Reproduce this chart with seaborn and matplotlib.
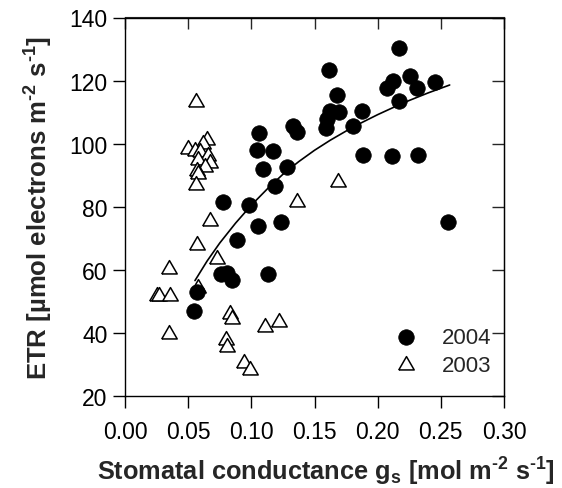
"""
ETR versus stomatal conductance, 2003 and 2004 campaigns,
with the saturation curve fitted to the 2004 points
"""
import matplotlib
matplotlib.use('Agg')
import matplotlib.pyplot as plt
import seaborn as sns
import pandas as pd

# 2004 measurements (filled circles)
gs_2004 = [0.0546, 0.0567, 0.076, 0.081, 0.085, 0.0778, 0.0889, 0.0984, 0.1055, 0.1134,
           0.1232, 0.1187, 0.109, 0.1285, 0.1042, 0.1174, 0.1058, 0.1327, 0.1359, 0.159,
           0.1596, 0.1623, 0.1696, 0.168, 0.1615, 0.1802, 0.1873, 0.1887, 0.2116, 0.2322,
           0.2559, 0.2071, 0.2124, 0.2256, 0.2314, 0.2454, 0.2172, 0.2172]
etr_2004 = [47.0, 52.9, 58.7, 58.9, 56.8, 81.6, 69.5, 80.5, 74.0, 58.7,
            75.3, 86.7, 92.0, 92.5, 98.1, 97.8, 103.4, 105.7, 103.8, 105.0,
            107.8, 110.5, 110.1, 115.4, 123.4, 105.5, 110.5, 96.4, 96.0, 96.4,
            75.3, 117.8, 120.0, 121.4, 117.6, 119.6, 113.6, 130.2]

# 2003 measurements (open triangles)
gs_2003 = [0.0562, 0.0646, 0.062, 0.0501, 0.0554, 0.0594, 0.066, 0.058, 0.0673, 0.0633,
           0.0567, 0.058, 0.056, 0.0673, 0.0573, 0.0731, 0.1364, 0.1689, 0.0351, 0.0256,
           0.0272, 0.0356, 0.058, 0.0351, 0.0831, 0.0845, 0.1108, 0.1219, 0.0797, 0.0805,
           0.0942, 0.0989]
etr_2003 = [113.1, 101.2, 99.9, 98.3, 97.8, 97.3, 96.0, 94.9, 93.9, 92.5,
            91.4, 90.4, 86.9, 75.6, 67.9, 63.4, 81.4, 87.9, 60.3, 51.6,
            51.6, 51.8, 54.1, 39.6, 46.0, 44.4, 41.8, 43.4, 37.8, 35.4,
            30.4, 28.3]

# fitted curve
fit_gs = [0.0554, 0.065, 0.075, 0.0875, 0.10, 0.1125, 0.125, 0.1375, 0.15, 0.1625,
          0.175, 0.1875, 0.20, 0.2125, 0.225, 0.24, 0.257]
fit_etr = [56.6, 62.8, 68.5, 74.8, 80.5, 85.6, 90.3, 94.3, 97.9, 101.1,
           104.0, 106.7, 109.2, 111.5, 113.7, 116.1, 118.6]

xticks = [0.0, 0.05, 0.10, 0.15, 0.20, 0.25, 0.30]
xticklabels = ['0.00', '0.05', '0.10', '0.15', '0.20', '0.25', '0.30']
yticks = [20, 40, 60, 80, 100, 120, 140]

df04 = pd.DataFrame({'gs': gs_2004, 'etr': etr_2004})
df03 = pd.DataFrame({'gs': gs_2003, 'etr': etr_2003})
dfit = pd.DataFrame({'gs': fit_gs, 'etr': fit_etr})

sns.set_style('ticks')
plt.rcParams['font.family'] = ['Liberation Sans', 'DejaVu Sans']
plt.rcParams['mathtext.fontset'] = 'custom'
plt.rcParams['mathtext.bf'] = 'Liberation Sans:bold'
plt.rcParams['mathtext.rm'] = 'Liberation Sans:bold'
plt.rcParams['mathtext.it'] = 'Liberation Sans:bold'

# open triangle, centred on its centroid
tri = [(-1, -0.577), (1, -0.577), (0, 1.155), (-1, -0.577)]

fig = plt.figure(figsize=(5.62, 4.89), dpi=100)
ax = fig.add_axes([125 / 562, 1 - 397 / 489, 379 / 562, 378.5 / 489])

sns.scatterplot(data=df03, x='gs', y='etr', marker=tri, s=165, color='white',
                edgecolor='black', linewidth=1.1, label='2003', ax=ax, zorder=3)
sns.scatterplot(data=df04, x='gs', y='etr', marker='o', s=125, color='black',
                edgecolor='black', linewidth=0.5, label='2004', ax=ax, zorder=4)
sns.lineplot(data=dfit, x='gs', y='etr', color='black', linewidth=1.2, ax=ax, zorder=5)

ax.set_xlim(0, 0.30)
ax.set_ylim(20, 140)
ax.set_xticks(xticks)
ax.set_yticks(yticks)
ax.set_xticklabels(xticklabels)

for s in ax.spines.values():
    s.set_visible(True)
    s.set_linewidth(1.0)
    s.set_color('black')

ax.tick_params(axis='both', which='major', direction='out', length=8.5, width=1.0,
               labelsize=16.5, colors='black')
ax.tick_params(axis='x', pad=9)
ax.tick_params(axis='y', pad=4)
# the opposite sides carry inward ticks without labels
ax_top = ax.secondary_xaxis('top')
ax_top.set_xticks(xticks)
ax_top.tick_params(direction='in', length=8.5, width=1.0, labeltop=False)
ax_right = ax.secondary_yaxis('right')
ax_right.set_yticks(yticks)
ax_right.tick_params(direction='in', length=8.5, width=1.0, labelright=False)

ax.set_xlabel(r'Stomatal conductance g$_\mathrm{s}$ [mol m$^{\text{-}2}$ s$^{\text{-}1}$]',
              fontsize=18.3, fontweight='bold', labelpad=8)
ax.xaxis.label.set_x(0.53)
ax.set_ylabel(r'ETR [µmol electrons m$^{\text{-}2}$ s$^{\text{-}1}$]',
              fontsize=18.5, fontweight='bold', labelpad=10)

h, l = ax.get_legend_handles_labels()
ax.legend(h[::-1], l[::-1], loc='lower right', bbox_to_anchor=(0.99, 0.03),
          frameon=False, fontsize=16, handletextpad=0.6, labelspacing=0.3,
          borderaxespad=0)

fig.savefig('out.png', dpi=100)
